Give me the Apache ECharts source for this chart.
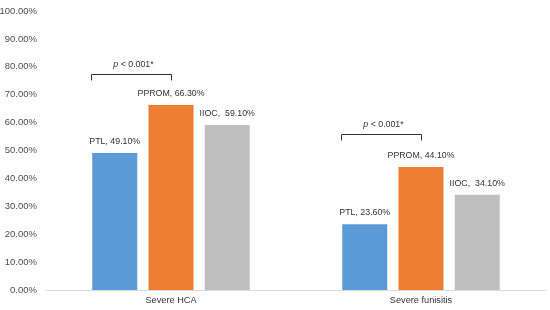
<!DOCTYPE html>
<html>
<head>
<meta charset="utf-8">
<script src="https://cdn.jsdelivr.net/npm/echarts@6/dist/echarts.min.js"></script>
<style>
  html, body { margin: 0; padding: 0; background: #fff; }
  #main { width: 550px; height: 310px; }
</style>
</head>
<body>
<div id="main"></div>
<script>
  // data
  var categories = ['Severe HCA', 'Severe funisitis'];
  var seriesNames = ['PTL', 'PPROM', 'IIOC'];
  var ptl = [49.1, 23.6];
  var pprom = [66.3, 44.1];
  var iioc = [59.1, 34.1];
  var colors = ['#5B9BD5', '#ED7D31', '#BFBFBF'];
  // significance brackets: level (in %) above each category
  var bracketLevel = [77.5, 56];
  var bracketText = ['p < 0.001*', 'p < 0.001*'];

  var myChart = echarts.init(document.getElementById('main'));
  var font = 'Liberation Sans, Arial, sans-serif';

  function mkSeries(name, vals, color, sep) {
    return {
      name: name, type: 'bar', data: vals, barGap: '25%', barCategoryGap: '37%',
      itemStyle: {color: color},
      label: {
        show: true, position: 'top', distance: 7, color: '#333', fontSize: 8.8, fontFamily: font,
        formatter: function (p) { return name + ',' + sep + p.value.toFixed(2) + '%'; }
      }
    };
  }

  var option = {
    backgroundColor: '#fff',
    animation: false,
    grid: {left: 46, right: 4, top: 11, bottom: 20, outerBoundsMode: 'none'},
    xAxis: {
      type: 'category', data: categories,
      axisLine: {lineStyle: {color: '#D9D9D9'}},
      axisTick: {show: false},
      axisLabel: {color: '#333', fontSize: 9.2, fontFamily: font, margin: 6}
    },
    yAxis: {
      type: 'value', min: 0, max: 100, interval: 10,
      splitLine: {show: false},
      axisLine: {show: false}, axisTick: {show: false},
      axisLabel: {color: '#4d4d4d', fontSize: 9.5, fontFamily: font, margin: 9,
        formatter: function (v) { return v.toFixed(2) + '%'; }}
    },
    series: [
      mkSeries(seriesNames[0], ptl, colors[0], ' '),
      mkSeries(seriesNames[1], pprom, colors[1], ' '),
      mkSeries(seriesNames[2], iioc, colors[2], '  ')
    ]
  };
  myChart.setOption(option);

  // brackets between PTL and PPROM
  function drawBrackets() {
    var d0 = myChart.getModel().getSeriesByIndex(0).getData();
    var d1 = myChart.getModel().getSeriesByIndex(1).getData();
    var els = [];
    for (var i = 0; i < categories.length; i++) {
      var l0 = d0.getItemLayout(i), l1 = d1.getItemLayout(i);
      var x1 = Math.round(l0.x - 1) + 0.5;
      var x2 = Math.round(l1.x + l1.width / 2) + 0.5;
      var y = Math.round(myChart.convertToPixel({yAxisIndex: 0}, bracketLevel[i])) + 0.5;
      els.push({
        type: 'polyline', silent: true,
        shape: {points: [[x1, y + 6], [x1, y], [x2, y], [x2, y + 6]]},
        style: {stroke: '#333', lineWidth: 1, fill: null}
      });
      els.push({
        type: 'text', silent: true, x: (x1 + x2) / 2 + 2, y: y - 10,
        style: {
          text: '{i|p}' + bracketText[i].slice(1),
          align: 'center', verticalAlign: 'middle',
          fill: '#333', font: '8.8px ' + font,
          rich: {i: {fontStyle: 'italic', fontSize: 8.8, fontFamily: font, fill: '#333'}}
        }
      });
    }
    myChart.setOption({graphic: els});
  }
  drawBrackets();
</script>
</body>
</html>
